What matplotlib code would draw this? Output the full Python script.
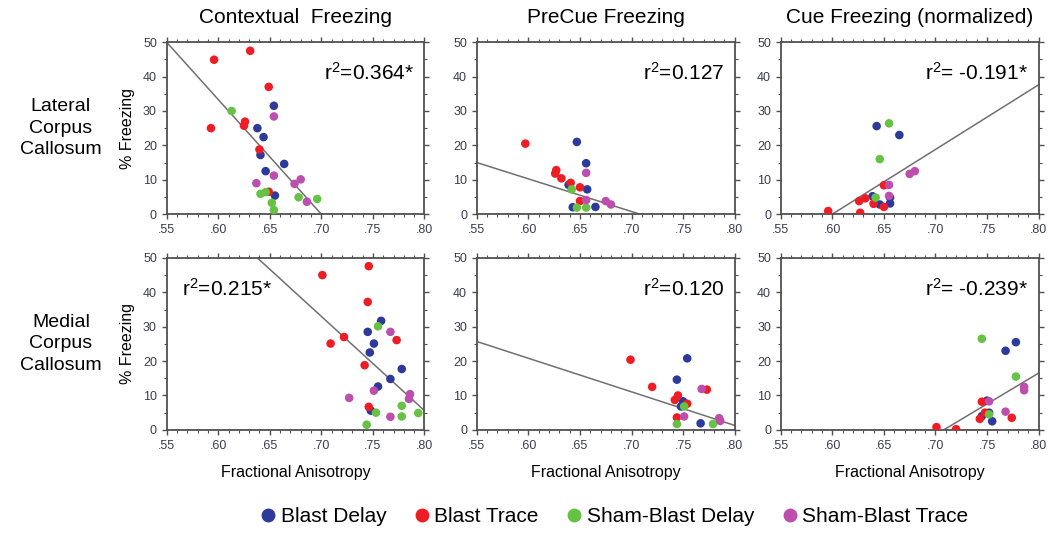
import matplotlib
matplotlib.use('Agg')
import matplotlib.pyplot as plt
from matplotlib.ticker import MultipleLocator, FuncFormatter
from matplotlib.lines import Line2D

plt.rcParams['font.family'] = ['Liberation Sans Narrow', 'Liberation Sans', 'DejaVu Sans']
plt.rcParams['mathtext.default'] = 'regular'

# group names and colours
groups = ['Blast Delay', 'Blast Trace', 'Sham-Blast Delay', 'Sham-Blast Trace']
colors = ['#2b3a9b', '#ee1c24', '#66c244', '#bc4fae']

col_titles = ['Contextual  Freezing', 'PreCue Freezing', 'Cue Freezing (normalized)']
row_titles = ['Lateral\nCorpus\nCallosum', 'Medial\nCorpus\nCallosum']

# ---- Lateral corpus callosum ----
# contextual
lat_ctx_bd_x = [0.654, 0.638, 0.644, 0.641, 0.646, 0.664, 0.655]
lat_ctx_bd_y = [31.5, 25.0, 22.4, 17.2, 12.5, 14.6, 5.4]
lat_ctx_bt_x = [0.596, 0.631, 0.649, 0.593, 0.626, 0.625, 0.640, 0.649]
lat_ctx_bt_y = [44.9, 47.5, 37.0, 25.0, 26.9, 25.7, 18.8, 6.5]
lat_ctx_sd_x = [0.613, 0.641, 0.646, 0.652, 0.654, 0.678, 0.696]
lat_ctx_sd_y = [30.0, 5.9, 6.4, 3.3, 1.2, 4.9, 4.4]
lat_ctx_st_x = [0.654, 0.654, 0.637, 0.674, 0.680, 0.686]
lat_ctx_st_y = [28.4, 11.2, 9.0, 8.8, 10.1, 3.6]
lat_ctx_fit = ([0.55, 0.70], [50.0, 0.0])

# precue
lat_pre_bd_x = [0.647, 0.656, 0.639, 0.657, 0.643, 0.665]
lat_pre_bd_y = [21.0, 14.8, 8.5, 7.2, 2.0, 2.1]
lat_pre_bt_x = [0.597, 0.627, 0.626, 0.632, 0.641, 0.650, 0.650]
lat_pre_bt_y = [20.5, 12.8, 11.8, 10.4, 9.1, 7.8, 3.8]
lat_pre_sd_x = [0.642, 0.647, 0.656]
lat_pre_sd_y = [7.2, 1.9, 1.9]
lat_pre_st_x = [0.656, 0.656, 0.675, 0.680]
lat_pre_st_y = [12.0, 4.1, 3.8, 2.8]
lat_pre_fit = ([0.55, 0.708], [15.0, 0.0])

# cue (normalized)
lat_cue_bd_x = [0.643, 0.665, 0.639, 0.646, 0.656, 0.656]
lat_cue_bd_y = [25.6, 23.0, 5.2, 2.8, 4.8, 3.1]
lat_cue_bt_x = [0.596, 0.626, 0.632, 0.627, 0.640, 0.650, 0.650]
lat_cue_bt_y = [0.9, 3.8, 4.6, 0.4, 3.0, 8.4, 2.1]
lat_cue_sd_x = [0.655, 0.646, 0.642]
lat_cue_sd_y = [26.4, 16.0, 4.8]
lat_cue_st_x = [0.655, 0.655, 0.675, 0.680]
lat_cue_st_y = [8.5, 5.3, 11.7, 12.5]
lat_cue_fit = ([0.60, 0.80], [0.0, 37.6])

# ---- Medial corpus callosum ----
med_ctx_bd_x = [0.758, 0.745, 0.751, 0.747, 0.767, 0.755, 0.748, 0.778]
med_ctx_bd_y = [31.7, 28.5, 25.1, 22.5, 14.8, 12.6, 5.6, 17.7]
med_ctx_bt_x = [0.701, 0.746, 0.745, 0.722, 0.709, 0.742, 0.746, 0.773]
med_ctx_bt_y = [45.0, 47.6, 37.2, 27.0, 25.1, 18.8, 6.7, 26.1]
med_ctx_sd_x = [0.755, 0.744, 0.753, 0.778, 0.778, 0.794]
med_ctx_sd_y = [30.1, 1.5, 5.0, 7.0, 3.9, 4.9]
med_ctx_st_x = [0.767, 0.727, 0.751, 0.767, 0.786, 0.785]
med_ctx_st_y = [28.5, 9.3, 11.4, 3.8, 10.4, 9.0]
med_ctx_fit = ([0.638, 0.80], [50.0, 5.6])

med_pre_bd_x = [0.754, 0.744, 0.750, 0.748, 0.767]
med_pre_bd_y = [20.8, 14.6, 8.3, 6.8, 1.9]
med_pre_bt_x = [0.699, 0.720, 0.742, 0.745, 0.744, 0.754, 0.773]
med_pre_bt_y = [20.4, 12.5, 8.7, 10.0, 3.6, 7.6, 11.7]
med_pre_sd_x = [0.744, 0.751, 0.779]
med_pre_sd_y = [1.7, 6.8, 1.7]
med_pre_st_x = [0.768, 0.751, 0.785, 0.786]
med_pre_st_y = [11.9, 3.9, 3.4, 2.6]
med_pre_fit = ([0.55, 0.80], [25.7, 1.3])

med_cue_bd_x = [0.768, 0.778, 0.750, 0.752, 0.745, 0.755]
med_cue_bd_y = [23.0, 25.5, 8.5, 5.0, 4.0, 2.5]
med_cue_bt_x = [0.701, 0.720, 0.745, 0.748, 0.743, 0.774]
med_cue_bt_y = [0.8, 0.2, 8.2, 5.0, 3.2, 3.5]
med_cue_sd_x = [0.745, 0.778, 0.752]
med_cue_sd_y = [26.5, 15.5, 4.5]
med_cue_st_x = [0.786, 0.786, 0.752, 0.768]
med_cue_st_y = [12.5, 11.5, 8.3, 5.3]
med_cue_fit = ([0.708, 0.80], [0.0, 16.5])

r2_labels = [['r$^2$=0.364*', 'r$^2$=0.127', 'r$^2$= -0.191*'],
             ['r$^2$=0.215*', 'r$^2$=0.120', 'r$^2$= -0.239*']]

panels = [
    [
        ([lat_ctx_bd_x, lat_ctx_bt_x, lat_ctx_sd_x, lat_ctx_st_x],
         [lat_ctx_bd_y, lat_ctx_bt_y, lat_ctx_sd_y, lat_ctx_st_y], lat_ctx_fit),
        ([lat_pre_bd_x, lat_pre_bt_x, lat_pre_sd_x, lat_pre_st_x],
         [lat_pre_bd_y, lat_pre_bt_y, lat_pre_sd_y, lat_pre_st_y], lat_pre_fit),
        ([lat_cue_bd_x, lat_cue_bt_x, lat_cue_sd_x, lat_cue_st_x],
         [lat_cue_bd_y, lat_cue_bt_y, lat_cue_sd_y, lat_cue_st_y], lat_cue_fit),
    ],
    [
        ([med_ctx_bd_x, med_ctx_bt_x, med_ctx_sd_x, med_ctx_st_x],
         [med_ctx_bd_y, med_ctx_bt_y, med_ctx_sd_y, med_ctx_st_y], med_ctx_fit),
        ([med_pre_bd_x, med_pre_bt_x, med_pre_sd_x, med_pre_st_x],
         [med_pre_bd_y, med_pre_bt_y, med_pre_sd_y, med_pre_st_y], med_pre_fit),
        ([med_cue_bd_x, med_cue_bt_x, med_cue_sd_x, med_cue_st_x],
         [med_cue_bd_y, med_cue_bt_y, med_cue_sd_y, med_cue_st_y], med_cue_fit),
    ],
]

fig = plt.figure(figsize=(10.48, 5.34), dpi=100)

lefts = [0.159, 0.455, 0.745]
bottoms = [0.599, 0.195]
w, h = 0.246, 0.322
axis_col = '#505050'
label_col = '#3c3c50'

for r in range(2):
    for c in range(3):
        ax = fig.add_axes([lefts[c], bottoms[r], w, h])
        xs, ys, fit = panels[r][c]
        ax.plot(fit[0], fit[1], color='#707070', lw=1.1, zorder=2)
        for gx, gy, col in zip(xs, ys, colors):
            ax.scatter(gx, gy, s=38, color=col, edgecolors='none', zorder=3)
        ax.set_xlim(0.55, 0.80)
        ax.set_ylim(0, 50)
        ax.xaxis.set_major_locator(MultipleLocator(0.05))
        ax.xaxis.set_minor_locator(MultipleLocator(0.01))
        ax.yaxis.set_major_locator(MultipleLocator(10))
        ax.yaxis.set_minor_locator(MultipleLocator(5))
        ax.xaxis.set_major_formatter(FuncFormatter(lambda v, p: ('%.2f' % v)[1:]))
        for sp in ax.spines.values():
            sp.set_color(axis_col)
            sp.set_linewidth(1.3)
        ax.tick_params(which='both', direction='out', top=True, right=True,
                       color=axis_col, labelcolor=label_col, labelsize=9)
        ax.tick_params(which='major', length=3.5, width=1.0)
        ax.tick_params(which='minor', length=2, width=0.8)

        if r == 1 and c == 0:
            ax.text(0.06, 0.82, r2_labels[r][c], transform=ax.transAxes,
                    fontsize=15, ha='left', va='center', family=['Liberation Sans'])
        else:
            ax.text(0.96, 0.82, r2_labels[r][c], transform=ax.transAxes,
                    fontsize=15, ha='right', va='center', family=['Liberation Sans'])
        if r == 0:
            ax.set_title(col_titles[c], fontsize=15, pad=14)
        else:
            ax.set_xlabel('Fractional Anisotropy', fontsize=11.5, labelpad=10,
                          family=['Liberation Sans'])
        if c == 0:
            ax.set_ylabel('% Freezing', fontsize=11.5, labelpad=6,
                          family=['Liberation Sans'])
            ax.text(-0.41, 0.5, row_titles[r], transform=ax.transAxes,
                    fontsize=14, ha='center', va='center', linespacing=1.35,
                    family=['Liberation Sans'])

handles = [Line2D([], [], ls='none', marker='o', markersize=10, color=col,
                  markeredgecolor='none') for col in colors]
fig.legend(handles, groups, loc='center', bbox_to_anchor=(0.585, 0.032), ncol=4,
           frameon=False, fontsize=15, handletextpad=0.1, columnspacing=1.2,
           handlelength=1.0)

fig.savefig('out.png', dpi=100)
